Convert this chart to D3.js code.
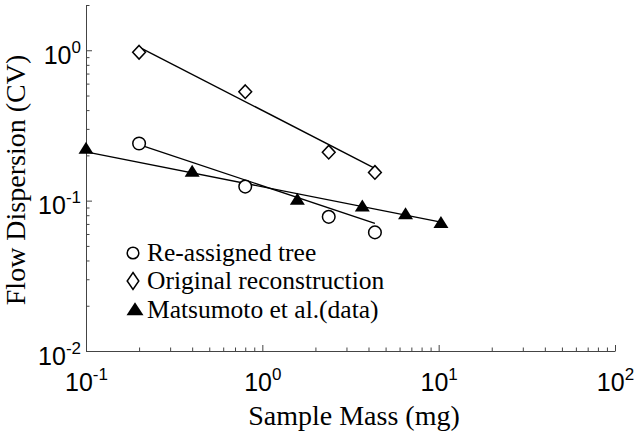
<!DOCTYPE html>
<html><head><meta charset="utf-8">
<script src="https://cdn.jsdelivr.net/npm/d3@7/dist/d3.min.js"></script>
<style>body{margin:0;background:#fff}svg{display:block}</style>
</head><body>
<svg id="c" width="638" height="433"></svg>
<script>
// ---- data ----
const massReassigned = [0.2, 0.8, 2.38, 4.35];
const cvReassigned   = [0.24, 0.124, 0.078, 0.0615];
const massOriginal   = [0.2, 0.8, 2.38, 4.35];
const cvOriginal     = [0.97, 0.53, 0.21, 0.154];
const massMatsumoto  = [0.1, 0.4, 1.58, 3.69, 6.49, 10.3];
const cvMatsumoto    = [0.218, 0.153, 0.100, 0.090, 0.080, 0.0698];
// fitted power-law lines (end points)
const fitReassignedX = [0.2, 4.35],  fitReassignedY = [0.236, 0.0706];
const fitOriginalX   = [0.2, 4.35],  fitOriginalY   = [1.05, 0.164];
const fitMatsumotoX  = [0.1, 10.3],  fitMatsumotoY  = [0.211, 0.072];
const xMajor = [0.1, 1, 10, 100];
const xMajorExp = ["-1", "0", "1", "2"];
const yMajor = [0.01, 0.1, 1];
const yMajorExp = ["-2", "-1", "0"];
const legendLabels = ["Re-assigned tree", "Original reconstruction", "Matsumoto et al.(data)"];
const xLabel = "Sample Mass (mg)";
const yLabel = "Flow Dispersion (CV)";

// ---- layout ----
const L = 86, R = 615, T = 5, B = 351;
const svg = d3.select("#c");
const x = d3.scaleLog().domain([0.1, 100]).range([L, R]);
const y = d3.scaleLog().domain([0.01, 2]).range([B, T]);

function minors(lo, hi) {
  const out = [];
  for (let e = Math.floor(Math.log10(lo)); e < Math.ceil(Math.log10(hi)); e++)
    for (let k = 2; k <= 9; k++) { const v = k * Math.pow(10, e); if (v >= lo && v <= hi) out.push(v); }
  return out;
}
const axisColor = "#444";
// minor ticks
svg.append("g").attr("transform", `translate(0,${B})`)
  .call(d3.axisBottom(x).tickValues(minors(0.1, 100)).tickSize(-3.5).tickFormat(() => ""))
  .call(g => g.select(".domain").remove());
svg.append("g").attr("transform", `translate(${L},0)`)
  .call(d3.axisLeft(y).tickValues(minors(0.01, 2)).tickSize(-3.5).tickFormat(() => ""))
  .call(g => g.select(".domain").remove());
// major ticks + domain
const gx = svg.append("g").attr("transform", `translate(0,${B})`)
  .call(d3.axisBottom(x).tickValues(xMajor).tickSize(-6).tickSizeOuter(0).tickFormat(() => ""));
const gy = svg.append("g").attr("transform", `translate(${L},0)`)
  .call(d3.axisLeft(y).tickValues(yMajor).tickSize(-6).tickSizeOuter(0).tickFormat(() => ""));
svg.selectAll(".tick line, .domain").attr("stroke", axisColor).attr("stroke-width", 1);
svg.selectAll(".tick text").remove();

function expLabel(sel, exps, anchor, tx, ty) {
  sel.selectAll(".tick").each(function(d, i) {
    const t = d3.select(this).append("text")
      .attr("x", tx).attr("y", ty).attr("text-anchor", anchor)
      .attr("fill", "#000").style("font-family", "'Liberation Sans', Arial, sans-serif")
      .style("font-size", "25px");
    t.append("tspan").text("10");
    t.append("tspan").attr("dy", -11).style("font-size", "17px").text(exps[i]);
  });
}
expLabel(gx, xMajorExp, "middle", 0, 40);
expLabel(gy, yMajorExp, "end", -5, 13);

// axis titles
svg.append("text").attr("x", 354).attr("y", 425).attr("text-anchor", "middle")
  .style("font-family", "'Liberation Serif', 'Times New Roman', serif").style("font-size", "28px")
  .text(xLabel);
svg.append("text").attr("transform", "translate(25,180) rotate(-90)").attr("text-anchor", "middle")
  .style("font-family", "'Liberation Serif', 'Times New Roman', serif").style("font-size", "28px")
  .text(yLabel);

// fit lines
const line = d3.line().x(d => x(d[0])).y(d => y(d[1]));
[[fitOriginalX, fitOriginalY], [fitReassignedX, fitReassignedY], [fitMatsumotoX, fitMatsumotoY]]
  .forEach(([xs, ys]) => {
    svg.append("path").datum(xs.map((v, i) => [v, ys[i]])).attr("d", line)
      .attr("fill", "none").attr("stroke", "#000").attr("stroke-width", 1.4);
  });

// markers
const diamond = (w, h) => `M0,${-h}L${w},0L0,${h}L${-w},0Z`;
const triangle = (w, h) => `M0,${-2*h/3}L${w/2},${h/3}L${-w/2},${h/3}Z`;
svg.append("g").selectAll("circle").data(massReassigned.map((m, i) => [m, cvReassigned[i]]))
  .join("circle").attr("cx", d => x(d[0])).attr("cy", d => y(d[1])).attr("r", 6.3)
  .attr("fill", "#fff").attr("stroke", "#000").attr("stroke-width", 1.5);
svg.append("g").selectAll("path").data(massOriginal.map((m, i) => [m, cvOriginal[i]]))
  .join("path").attr("transform", d => `translate(${x(d[0])},${y(d[1])})`)
  .attr("d", diamond(6.4, 6.8)).attr("fill", "#fff").attr("stroke", "#000").attr("stroke-width", 1.5);
svg.append("g").selectAll("path").data(massMatsumoto.map((m, i) => [m, cvMatsumoto[i]]))
  .join("path").attr("transform", d => `translate(${x(d[0])},${y(d[1])})`)
  .attr("d", triangle(15, 12)).attr("fill", "#000");

// legend
const lg = svg.append("g");
const rows = [253, 281, 311], base = [261, 289, 318];
lg.append("circle").attr("cx", 133).attr("cy", rows[0]).attr("r", 5.8)
  .attr("fill", "#fff").attr("stroke", "#000").attr("stroke-width", 1.5);
lg.append("path").attr("transform", `translate(133,${rows[1]})`).attr("d", diamond(5.8, 8.5))
  .attr("fill", "#fff").attr("stroke", "#000").attr("stroke-width", 1.5);
lg.append("path").attr("transform", `translate(135,${rows[2]})`).attr("d", triangle(17, 13)).attr("fill", "#000");
legendLabels.forEach((t, i) => {
  lg.append("text").attr("x", 147).attr("y", base[i])
    .style("font-family", "'Liberation Serif', 'Times New Roman', serif").style("font-size", "25.5px")
    .text(t);
});
</script>
</body></html>
